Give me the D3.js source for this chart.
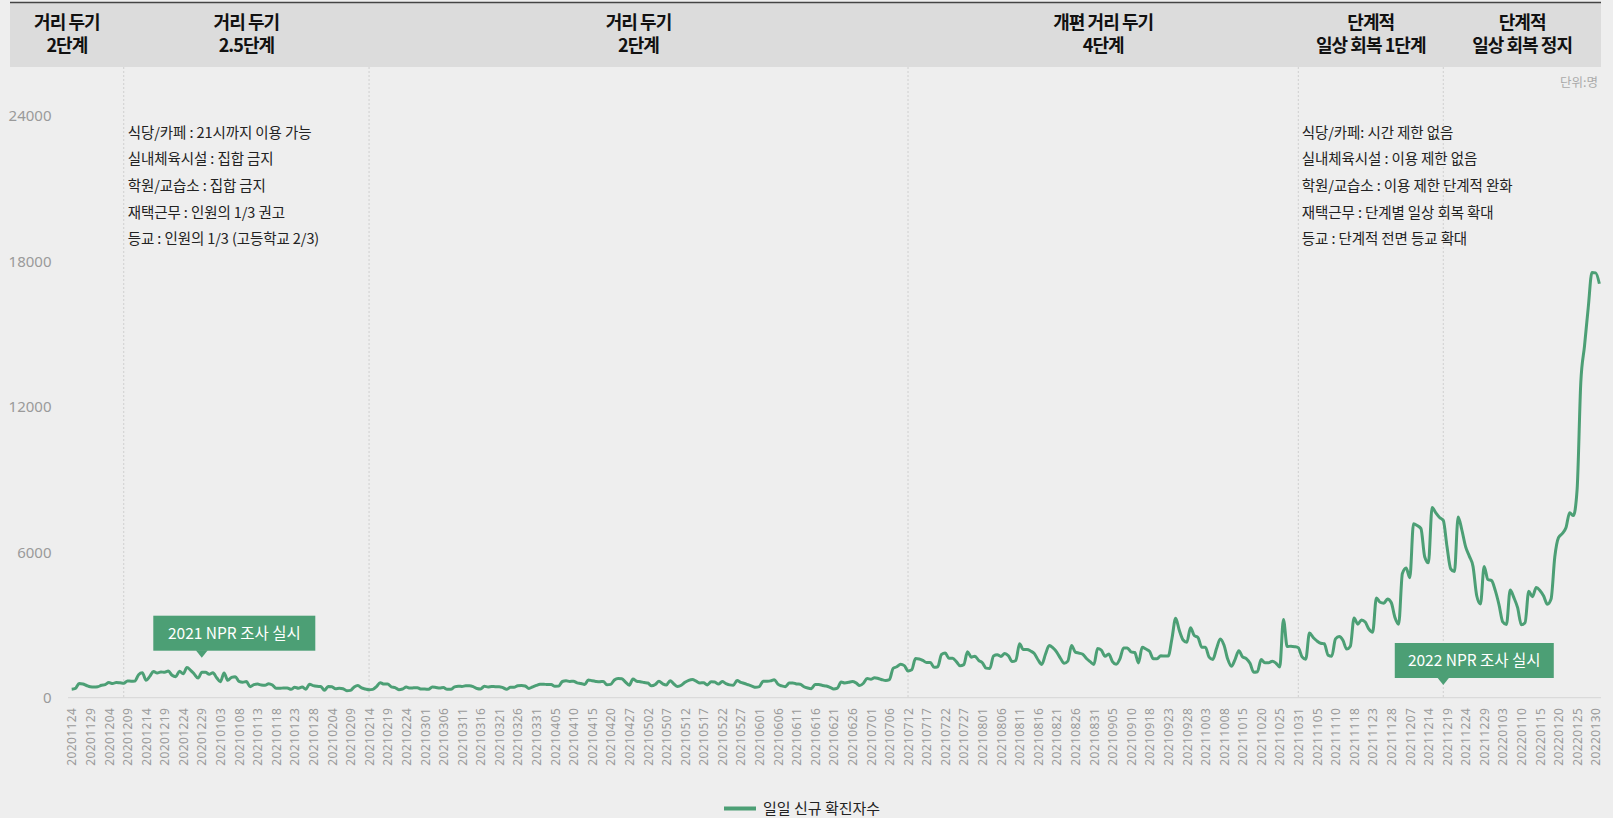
<!DOCTYPE html>
<html>
<head>
<meta charset="utf-8">
<script src="https://cdn.jsdelivr.net/npm/d3@7"></script>
<style>
  html, body { margin: 0; padding: 0; background: #eeeeee; }
  svg { display: block; font-family: "Noto Sans CJK KR", "Noto Sans", sans-serif; }
</style>
</head>
<body>
<script>
// 일일 신규 확진자수, one value per category (dates with gaps, tick every 5th)
var dailyCases = [
    349, 382, 583, 569, 504,
    450, 438, 451, 511, 540,
    629, 583, 631, 615, 594,
    686, 682, 689, 950, 1030,
    718, 880, 1078, 1014, 1064,
    1047, 1097, 926, 869, 1092,
    985, 1241, 1132, 970, 808,
    1046, 1050, 967, 1029, 820,
    657, 1020, 715, 840, 869,
    674, 641, 665, 451, 537,
    562, 524, 513, 580, 520,
    389, 386, 404, 401, 346,
    431, 392, 437, 349, 559,
    497, 469, 458, 305, 467,
    451, 370, 393, 372, 289,
    303, 444, 504, 403, 362,
    326, 344, 457, 621, 561,
    561, 448, 416, 332, 357,
    440, 396, 406, 415, 356,
    355, 344, 444, 424, 398,
    416, 346, 346, 446, 470,
    465, 488, 490, 459, 382,
    363, 469, 445, 463, 452,
    456, 415, 346, 428, 430,
    494, 505, 482, 384, 447,
    506, 551, 557, 543, 543,
    473, 478, 668, 700, 671,
    677, 614, 587, 542, 731,
    698, 673, 658, 672, 532,
    549, 731, 797, 785, 644,
    512, 769, 680, 661, 627,
    606, 488, 541, 676, 574,
    525, 701, 564, 463, 511,
    635, 715, 747, 681, 610,
    619, 528, 654, 646, 561,
    666, 585, 530, 516, 707,
    629, 587, 533, 480, 430,
    459, 677, 681, 695, 744,
    556, 485, 454, 602, 611,
    565, 556, 452, 399, 373,
    545, 540, 507, 482, 429,
    357, 395, 645, 610, 634,
    668, 614, 501, 595, 794,
    762, 826, 794, 743, 711,
    746, 1212, 1275, 1378, 1324,
    1100, 1150, 1615, 1600, 1536,
    1452, 1454, 1252, 1278, 1784,
    1842, 1630, 1629, 1487, 1318,
    1365, 1896, 1674, 1710, 1539,
    1442, 1219, 1202, 1725, 1776,
    1704, 1823, 1729, 1492, 1537,
    2223, 1987, 1990, 1928, 1817,
    1556, 1373, 1805, 2152, 2052,
    1882, 1629, 1418, 1509, 2154,
    1882, 1841, 1793, 1619, 1487,
    1372, 2025, 1961, 1709, 1804,
    1490, 1375, 1597, 2050, 2049,
    1892, 1865, 1433, 2080, 2008,
    1910, 1604, 1605, 1729, 1720,
    1716, 2434, 3273, 2771, 2383,
    2289, 2885, 2564, 2486, 2086,
    2085, 1673, 1575, 2028, 2427,
    2175, 1594, 1297, 1584, 1940,
    1684, 1616, 1420, 1050, 1073,
    1571, 1441, 1439, 1508, 1423,
    1266, 3230, 2111, 2124, 2104,
    2061, 1686, 1589, 2667, 2482,
    2344, 2247, 2224, 1758, 1715,
    2425, 2520, 2368, 2006, 2125,
    3292, 3034, 3206, 3120, 2827,
    2699, 4116, 3938, 3899, 4068,
    3925, 3308, 3032, 5123, 5352,
    4954, 7175, 7102, 6977, 5817,
    5567, 7850, 7622, 7435, 7314,
    6236, 5318, 5202, 7456, 6919,
    6233, 5842, 5419, 4207, 3865,
    5409, 4875, 4831, 4416, 3833,
    3129, 3022, 4444, 4126, 3713,
    3005, 3097, 4388, 4167, 4542,
    4423, 4194, 3857, 4071, 5805,
    6603, 6769, 7009, 7630, 7513,
    8571, 13012, 14518, 16096, 17542,
    17528, 17079
];

var tickLabels = [
    '20201124', '20201129', '20201204', '20201209', '20201214', '20201219', '20201224', '20201229',
    '20210103', '20210108', '20210113', '20210118', '20210123', '20210128', '20210204', '20210209',
    '20210214', '20210219', '20210224', '20210301', '20210306', '20210311', '20210316', '20210321',
    '20210326', '20210331', '20210405', '20210410', '20210415', '20210420', '20210427', '20210502',
    '20210507', '20210512', '20210517', '20210522', '20210527', '20210601', '20210606', '20210611',
    '20210616', '20210621', '20210626', '20210701', '20210706', '20210712', '20210717', '20210722',
    '20210727', '20210801', '20210806', '20210811', '20210816', '20210821', '20210826', '20210831',
    '20210905', '20210910', '20210918', '20210923', '20210928', '20211003', '20211008', '20211015',
    '20211020', '20211025', '20211031', '20211105', '20211110', '20211118', '20211123', '20211128',
    '20211207', '20211214', '20211219', '20211224', '20211229', '20220103', '20220110', '20220115',
    '20220120', '20220125', '20220130'
];

var yTicks = [0, 6000, 12000, 18000, 24000];

// category index where each distancing phase starts
var phaseStarts = [14, 80, 225, 330, 369];
var phaseNames = [
    ['거리 두기', '2단계'],
    ['거리 두기', '2.5단계'],
    ['거리 두기', '2단계'],
    ['개편 거리 두기', '4단계'],
    ['단계적', '일상 회복 1단계'],
    ['단계적', '일상 회복 정지']
];

var nprIndex = [35, 369];
var nprLabels = ['2021 NPR 조사 실시', '2022 NPR 조사 실시'];

var noteLeft = [
    '식당/카페 : 21시까지 이용 가능',
    '실내체육시설 : 집합 금지',
    '학원/교습소 : 집합 금지',
    '재택근무 : 인원의 1/3 권고',
    '등교 : 인원의 1/3 (고등학교 2/3)'
];
var noteRight = [
    '식당/카페: 시간 제한 없음',
    '실내체육시설 : 이용 제한 없음',
    '학원/교습소 : 이용 제한 단계적 완화',
    '재택근무 : 단계별 일상 회복 확대',
    '등교 : 단계적 전면 등교 확대'
];

var green = '#4c9f75';
var W = 1613, H = 818;
var bandLeft = 10, bandRight = 1601;
var baseY = 697.7;

var x = d3.scaleLinear()
    .domain([0, dailyCases.length - 1])
    .range([71.7, 71.7 + (dailyCases.length - 1) * 3.717]);

var y = d3.scaleLinear()
    .domain([0, 24000])
    .range([baseY, 116]);

var svg = d3.select('body')
    .append('svg')
    .attr('width', W)
    .attr('height', H);

// header band
svg.append('rect')
    .attr('x', bandLeft).attr('y', 3)
    .attr('width', bandRight - bandLeft).attr('height', 64)
    .attr('fill', '#dcdcdc');
svg.append('line')
    .attr('x1', bandLeft).attr('x2', bandRight)
    .attr('y1', 2.5).attr('y2', 2.5)
    .attr('stroke', '#444').attr('stroke-width', 1.5);

// phase dividers
svg.selectAll('.divider')
    .data(phaseStarts)
    .enter()
    .append('line')
    .attr('class', 'divider')
    .attr('x1', function (d) { return x(d); })
    .attr('x2', function (d) { return x(d); })
    .attr('y1', 67)
    .attr('y2', baseY)
    .attr('stroke', '#cfcfcf')
    .attr('stroke-width', 1)
    .attr('stroke-dasharray', '2,2');

var edges = [bandLeft].concat(phaseStarts.map(function (d) { return x(d); })).concat([bandRight]);

var heads = svg.selectAll('.phase')
    .data(phaseNames)
    .enter()
    .append('text')
    .attr('class', 'phase')
    .attr('text-anchor', 'middle')
    .attr('font-size', 18)
    .attr('font-weight', 'bold')
    .attr('letter-spacing', -0.95)
    .attr('fill', '#111');
heads.each(function (d, i) {
    var cx = (edges[i] + edges[i + 1]) / 2;
    d3.select(this).selectAll('tspan')
        .data(d)
        .enter()
        .append('tspan')
        .attr('x', cx)
        .attr('y', function (t, j) { return 22.6 + j * 22.7; })
        .attr('dy', '0.35em')
        .text(function (t) { return t; });
});

// unit
svg.append('text')
    .attr('x', 1598).attr('y', 83)
    .attr('dy', '0.35em')
    .attr('text-anchor', 'end')
    .attr('font-size', 12.5)
    .attr('fill', '#aaa')
    .text('단위:명');

// y axis
var yAxis = svg.append('g')
    .attr('transform', 'translate(51.5,0)')
    .call(d3.axisLeft(y).tickValues(yTicks).tickSize(0).tickPadding(0).tickFormat(d3.format('d')));
yAxis.select('.domain').remove();
yAxis.selectAll('text')
    .attr('font-size', 15)
    .attr('font-family', '"Noto Sans", sans-serif')
    .attr('fill', '#9a9a9a');

// x axis
var xAxis = svg.append('g')
    .attr('transform', 'translate(0,' + baseY + ')')
    .call(d3.axisBottom(x)
        .tickValues(d3.range(0, tickLabels.length * 5, 5))
        .tickSize(0)
        .tickFormat(function (d, i) { return tickLabels[i]; }));
xAxis.select('.domain')
    .attr('d', 'M' + 68 + ',0H' + bandRight)
    .attr('stroke', '#d6d6d6');
xAxis.selectAll('text')
    .attr('transform', 'rotate(-90)')
    .attr('text-anchor', 'end')
    .attr('x', -10)
    .attr('y', 0)
    .attr('dy', '0.35em')
    .attr('font-size', 12)
    .attr('letter-spacing', 0.4)
    .attr('font-family', '"Noto Sans", sans-serif')
    .attr('fill', '#9a9a9a');

// notes
function notes(list, left) {
    svg.append('g')
        .selectAll('text')
        .data(list)
        .enter()
        .append('text')
        .attr('x', left)
        .attr('y', function (d, i) { return 132.7 + i * 26.65; })
        .attr('dy', '0.35em')
        .attr('font-size', 14.5)
        .attr('letter-spacing', -0.1)
        .attr('fill', '#222')
        .text(function (d) { return d; });
}
notes(noteLeft, x(phaseStarts[0]) + 4);
notes(noteRight, x(phaseStarts[3]) + 3.5);

// the line
var line = d3.line()
    .x(function (d, i) { return x(i); })
    .y(function (d) { return y(d); })
    .curve(d3.curveMonotoneX);

svg.append('path')
    .datum(dailyCases)
    .attr('d', line)
    .attr('fill', 'none')
    .attr('stroke', green)
    .attr('stroke-width', 3)
    .attr('stroke-linejoin', 'round');

// NPR callouts
var tipY = [657.7, 685];
var boxW = [162, 159];
nprIndex.forEach(function (idx, i) {
    var tx = x(idx);
    var bx = tx - 48.5;
    var g = svg.append('g');
    g.append('rect')
        .attr('x', bx).attr('y', tipY[i] - 42)
        .attr('width', boxW[i]).attr('height', 35)
        .attr('fill', green);
    g.append('path')
        .attr('d', 'M' + (tx - 6) + ',' + (tipY[i] - 7.5) + 'L' + (tx + 6) + ',' + (tipY[i] - 7.5) + 'L' + tx + ',' + tipY[i] + 'Z')
        .attr('fill', green);
    g.append('text')
        .attr('x', bx + boxW[i] / 2)
        .attr('y', tipY[i] - 24.5)
        .attr('dy', '0.35em')
        .attr('text-anchor', 'middle')
        .attr('font-size', 15.5)
        .attr('fill', '#fff')
        .text(nprLabels[i]);
});

// legend
svg.append('line')
    .attr('x1', 724).attr('x2', 756)
    .attr('y1', 808.5).attr('y2', 808.5)
    .attr('stroke', green)
    .attr('stroke-width', 4);
svg.append('text')
    .attr('x', 763).attr('y', 808.5)
    .attr('dy', '0.35em')
    .attr('font-size', 15)
    .attr('fill', '#222')
    .text('일일 신규 확진자수');
</script>
</body>
</html>
